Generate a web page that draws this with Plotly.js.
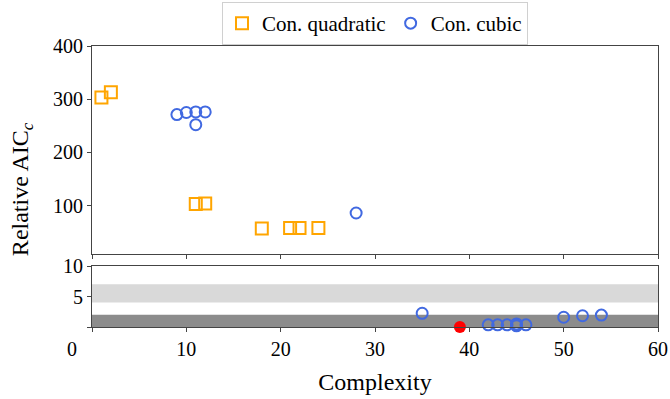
<!DOCTYPE html>
<html>
<head>
<meta charset="utf-8">
<script src="https://cdn.plot.ly/plotly-3.0.1.min.js"></script>
<style>html,body{margin:0;padding:0;background:#fff;}#chart{width:670px;height:399px;}</style>
</head>
<body>
<div id="chart"></div>
<script>
// Data
const quadX = [1, 2, 11, 12, 18, 21, 22, 24];
const quadY = [303, 313, 103, 104, 57, 58, 58, 58];
const cubicX = [9, 10, 11, 12, 11, 28, 35, 42, 43, 44, 45, 45, 45, 46, 50, 52, 54];
const cubicY = [271, 275, 276, 276, 252, 86, 2.25, 0.35, 0.35, 0.35, 0.2, 0.35, 0.5, 0.35, 1.6, 1.85, 1.95];
const bestX = [39];
const bestY = [0];
const lightBand = [4, 7];
const darkBand = [0, 2];
const xTicks = [0, 10, 20, 30, 40, 50, 60];
const xTickText = ['', '10', '20', '30', '40', '50', '60'];
const yTopTicks = [100, 200, 300, 400];

const BREAK = 10;
const orange = '#FFA500', blue = '#4169E1';
const font = "'Liberation Serif', 'Times New Roman', Times, serif";

const topIdx = cubicY.map((v,i)=>i).filter(i=>cubicY[i] >= BREAK);
const botIdx = cubicY.map((v,i)=>i).filter(i=>cubicY[i] < BREAK);

const traces = [
  {x: quadX, y: quadY, xaxis:'x', yaxis:'y', mode:'markers', type:'scatter', name:'Con. quadratic',
   marker:{symbol:'square-open', size:12, color:orange, line:{width:2, color:orange}}},
  {x: topIdx.map(i=>cubicX[i]), y: topIdx.map(i=>cubicY[i]), xaxis:'x', yaxis:'y', mode:'markers', type:'scatter', name:'Con. cubic',
   legendgroup:'cubic', marker:{symbol:'circle-open', size:11, color:blue, line:{width:2, color:blue}}},
  {x: botIdx.map(i=>cubicX[i]), y: botIdx.map(i=>cubicY[i]), xaxis:'x2', yaxis:'y2', mode:'markers', type:'scatter', name:'Con. cubic',
   legendgroup:'cubic', showlegend:false, cliponaxis:false, marker:{symbol:'circle-open', size:11, color:blue, line:{width:2, color:blue}}},
  {x: bestX, y: bestY, xaxis:'x2', yaxis:'y2', mode:'markers', type:'scatter', showlegend:false, cliponaxis:false,
   marker:{symbol:'circle', size:12, color:'#FF0000'}}
];

const axLine = {showline:true, mirror:true, linecolor:'#444', linewidth:1, showgrid:false, zeroline:false,
  ticks:'outside', ticklen:4, tickcolor:'#444', tickfont:{family:font, size:20, color:'#000'}};

const layout = {
  width:670, height:399,
  margin:{l:92, r:12, t:46, b:72, autoexpand:false},
  paper_bgcolor:'#fff', plot_bgcolor:'#fff',
  font:{family:font, color:'#000'},
  showlegend:true,
  legend:{orientation:'h', x:0.5, xanchor:'center', xref:'paper', y:0.995, yref:'container', yanchor:'top',
    font:{family:font, size:21}, bordercolor:'#d0d0d0', borderwidth:1, bgcolor:'#fff',
    itemwidth:30, tracegroupgap:0},
  xaxis: Object.assign({}, axLine, {domain:[0,1], range:[0,60], anchor:'y', tickvals:xTicks, showticklabels:false}),
  yaxis: Object.assign({}, axLine, {domain:[0.26,1], range:[9,400], tickvals:yTopTicks}),
  xaxis2: Object.assign({}, axLine, {domain:[0,1], range:[0,60], anchor:'y2', tickvals:xTicks, ticktext:xTickText,
    title:{text:'Complexity', font:{family:font, size:24}, standoff:14}}),
  yaxis2: Object.assign({}, axLine, {domain:[0,0.217], range:[0,10], tickvals:[0,5,10], ticktext:['','5','10']}),
  shapes:[
    {type:'rect', xref:'x2 domain', yref:'y2', x0:0, x1:1, y0:lightBand[0], y1:lightBand[1], fillcolor:'#D9D9D9', line:{width:0}, layer:'below'},
    {type:'rect', xref:'x2 domain', yref:'y2', x0:0, x1:1, y0:darkBand[0], y1:darkBand[1], fillcolor:'#8C8C8C', line:{width:0}, layer:'below'}
  ],
  annotations:[
    {text:'Relative AIC<sub><i>c</i></sub>', xref:'paper', yref:'paper', x:-0.124, y:0.49, textangle:-90,
     showarrow:false, font:{family:font, size:24}, xanchor:'center', yanchor:'middle'},
    {text:'0', xref:'paper', yref:'paper', x:-0.035, y:-0.08, showarrow:false, font:{family:font, size:20},
     xanchor:'center', yanchor:'middle'}
  ]
};

Plotly.newPlot('chart', traces, layout, {displayModeBar:false, staticPlot:true});
</script>
</body>
</html>
